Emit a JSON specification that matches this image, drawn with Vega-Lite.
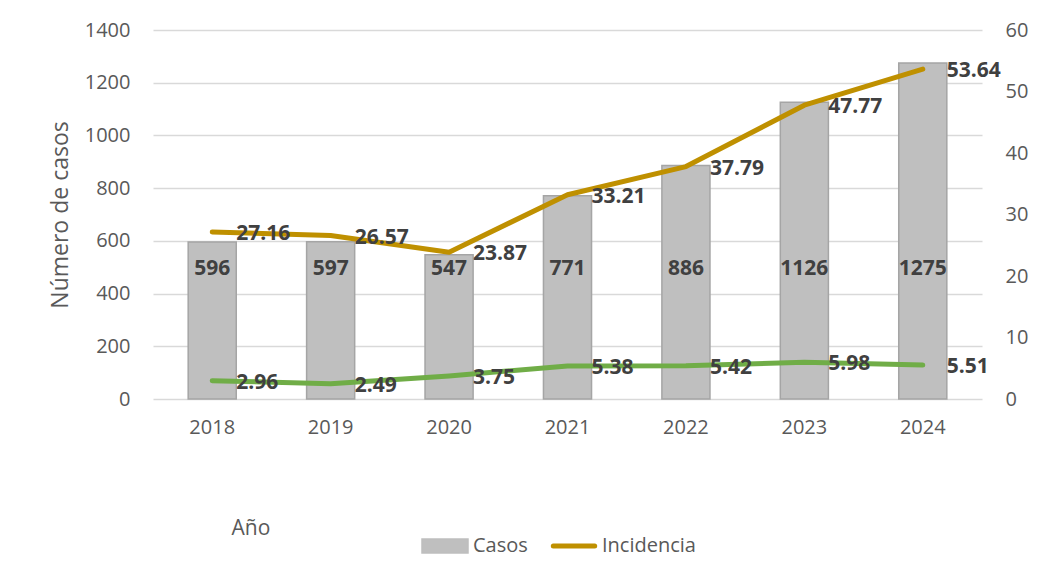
{
  "$schema": "https://vega.github.io/schema/vega-lite/v6.json",
  "width": 829,
  "height": 369,
  "autosize": {"type": "none"},
  "padding": {"left": 153, "top": 30, "right": 57, "bottom": 177},
  "background": "white",
  "config": {
    "view": {"stroke": null},
    "font": "Open Sans",
    "axis": {"labelFont": "Open Sans", "titleFont": "Open Sans", "labelColor": "#595959", "titleColor": "#595959", "labelFontSize": 20, "titleFontSize": 20, "titleFontWeight": "normal", "domain": false, "ticks": false},
    "legend": {"labelFont": "Open Sans"}
  },
  "data": {
    "values": [
      {"anio": "2018", "Casos": 596, "Incidencia": 27.16, "Tasa": 2.96},
      {"anio": "2019", "Casos": 597, "Incidencia": 26.57, "Tasa": 2.49},
      {"anio": "2020", "Casos": 547, "Incidencia": 23.87, "Tasa": 3.75},
      {"anio": "2021", "Casos": 771, "Incidencia": 33.21, "Tasa": 5.38},
      {"anio": "2022", "Casos": 886, "Incidencia": 37.79, "Tasa": 5.42},
      {"anio": "2023", "Casos": 1126, "Incidencia": 47.77, "Tasa": 5.98},
      {"anio": "2024", "Casos": 1275, "Incidencia": 53.64, "Tasa": 5.51}
    ]
  },
  "encoding": {
    "x": {
      "field": "anio", "type": "nominal", "sort": null,
      "scale": {"paddingInner": 0.594, "paddingOuter": 0.297},
      "axis": {"labelAngle": 0, "labelPadding": 18, "grid": false, "title": "Año", "titleX": 78, "titleY": 129, "titleAlign": "left", "titleAnchor": "start", "titleBaseline": "middle", "titleFontSize": 21}
    }
  },
  "layer": [
    {
      "encoding": {
        "y": {
          "type": "quantitative",
          "scale": {"domain": [0, 1400]},
          "axis": {"values": [0, 200, 400, 600, 800, 1000, 1200, 1400], "format": "d", "grid": true, "gridColor": "#D9D9D9", "gridWidth": 1.3, "labelPadding": 23, "title": "Número de casos", "titleFontSize": 23, "titleX": -93, "titleY": 184.5, "titleAngle": 270, "titleAlign": "center", "titleBaseline": "middle"}
        }
      },
      "layer": [
        {
          "mark": {"type": "bar", "stroke": "#A5A5A5", "strokeWidth": 1.5},
          "encoding": {
            "y": {"field": "Casos", "type": "quantitative"},
            "color": {
              "datum": "Casos",
              "scale": {"domain": ["Casos", "Incidencia", "Tasa"], "range": ["#BFBFBF", "#BF9000", "#70AD47"]},
              "legend": {
                "title": null,
                "values": ["Casos", "Incidencia"],
                "orient": "none",
                "legendX": 282,
                "legendY": 506,
                "direction": "horizontal",
                "symbolSize": 2116,
                "labelFontSize": 20,
                "labelColor": "#595959",
                "labelOffset": 18,
                "columnPadding": 15,
                "padding": 0,
                "encode": {
                  "symbols": {
                    "update": {
                      "shape": {"signal": "datum.value === 'Casos' ? 'M-1,-0.3H1V0.3H-1Z' : 'M-0.9,0H0.9'"},
                      "fill": {"signal": "datum.value === 'Casos' ? '#BFBFBF' : 'transparent'"},
                      "stroke": {"signal": "datum.value === 'Casos' ? '#A5A5A5' : '#BF9000'"},
                      "strokeWidth": {"signal": "datum.value === 'Casos' ? 1.5 : 5"},
                      "strokeCap": {"value": "round"},
                      "opacity": {"value": 1}
                    }
                  }
                }
              }
            }
          }
        },
        {
          "mark": {"type": "text", "font": "Open Sans", "fontWeight": "bold", "fontSize": 21, "color": "#404040", "align": "center", "baseline": "middle"},
          "encoding": {
            "y": {"datum": 493},
            "text": {"field": "Casos", "type": "quantitative"}
          }
        }
      ]
    },
    {
      "transform": [{"fold": ["Incidencia", "Tasa"], "as": ["serie", "valor"]}],
      "encoding": {
        "y": {
          "field": "valor",
          "type": "quantitative",
          "scale": {"domain": [0, 60]},
          "axis": {"orient": "right", "values": [0, 10, 20, 30, 40, 50, 60], "grid": false, "labelPadding": 23, "title": null}
        }
      },
      "layer": [
        {
          "mark": {"type": "line", "strokeWidth": 5, "strokeCap": "round", "strokeJoin": "round"},
          "encoding": {
            "color": {
              "field": "serie", "type": "nominal",
              "legend": {
                "title": null,
                "values": ["Casos", "Incidencia"],
                "orient": "none",
                "legendX": 282,
                "legendY": 506,
                "direction": "horizontal",
                "symbolSize": 2116,
                "labelFontSize": 20,
                "labelColor": "#595959",
                "labelOffset": 18,
                "columnPadding": 15,
                "padding": 0,
                "encode": {
                  "symbols": {
                    "update": {
                      "shape": {"signal": "datum.value === 'Casos' ? 'M-1,-0.3H1V0.3H-1Z' : 'M-0.9,0H0.9'"},
                      "fill": {"signal": "datum.value === 'Casos' ? '#BFBFBF' : 'transparent'"},
                      "stroke": {"signal": "datum.value === 'Casos' ? '#A5A5A5' : '#BF9000'"},
                      "strokeWidth": {"signal": "datum.value === 'Casos' ? 1.5 : 5"},
                      "strokeCap": {"value": "round"},
                      "opacity": {"value": 1}
                    }
                  }
                }
              }
            },
            "detail": {"field": "serie"}
          }
        },
        {
          "mark": {"type": "text", "font": "Open Sans", "fontWeight": "bold", "fontSize": 21, "color": "#404040", "align": "left", "baseline": "middle", "dx": 24, "dy": 2},
          "encoding": {
            "text": {"field": "valor", "type": "quantitative", "format": ".2f"}
          }
        }
      ]
    }
  ],
  "resolve": {"scale": {"y": "independent"}}
}
